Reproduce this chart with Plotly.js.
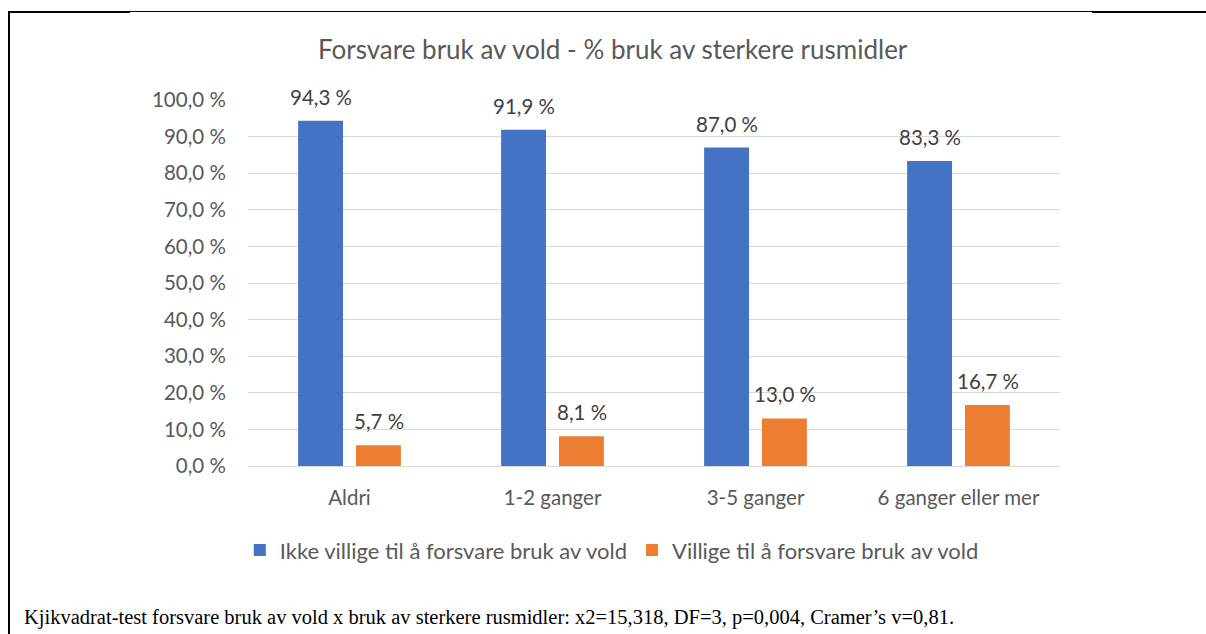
<!DOCTYPE html>
<html>
<head>
<meta charset="utf-8">
<script src="https://cdn.plot.ly/plotly-3.0.1.min.js"></script>
<style>
html,body{margin:0;padding:0;background:#fff;}
#wrap{position:relative;width:1206px;height:634px;overflow:hidden;}
#chart{position:absolute;left:0;top:0;width:1206px;height:634px;}
.ln{position:absolute;background:#000;}
</style>
</head>
<body>
<div id="wrap">
<div id="chart"></div>
<div class="ln" style="left:8px;top:11px;width:2px;height:623px;"></div>
<div class="ln" style="left:8px;top:11px;width:122px;height:2px;"></div>
<div class="ln" style="left:130px;top:11px;width:962px;height:1px;"></div>
<div class="ln" style="left:1092px;top:11px;width:114px;height:2px;"></div>
</div>
<script>
const categories = ["Aldri", "1-2 ganger", "3-5 ganger", "6 ganger eller mer"];
const seriesNames = ["Ikke villige til å forsvare bruk av vold", "Villige til å forsvare bruk av vold"];
const ikkeVillige = [94.3, 91.9, 87.0, 83.3];
const villige = [5.7, 8.1, 13.0, 16.7];
const yTicks = [0, 10, 20, 30, 40, 50, 60, 70, 80, 90, 100];
const yTickLabels = ["0,0 %", "10,0 %", "20,0 %", "30,0 %", "40,0 %", "50,0 %", "60,0 %", "70,0 %", "80,0 %", "90,0 %", "100,0 %"];
const titleText = "Forsvare bruk av vold - % bruk av sterkere rusmidler";
const footerText = "Kjikvadrat-test forsvare bruk av vold x bruk av sterkere rusmidler: x2=15,318, DF=3, p=0,004, Cramer’s v=0,81.";

const colors = ["#4472C4", "#ED7D31"];
const font = "Lato, 'Open Sans', sans-serif";
const grey = "#595959";

const traces = [
  {type: "bar", name: seriesNames[0], x: categories, y: ikkeVillige, marker: {color: colors[0]}, hoverinfo: "none"},
  {type: "bar", name: seriesNames[1], x: categories, y: villige, marker: {color: colors[1]}, hoverinfo: "none"}
];

const fmt = v => v.toFixed(1).replace(".", ",") + " %";
const annotations = [];
[ikkeVillige, villige].forEach((arr, si) => {
  arr.forEach((v, i) => {
    annotations.push({
      x: categories[i], y: v, xref: "x", yref: "y",
      xshift: si === 0 ? -29 : 29, yshift: 10,
      yanchor: "bottom", showarrow: false,
      text: fmt(v), font: {family: font, size: 20.5, color: "#404040"}
    });
  });
});
annotations.push({
  xref: "paper", yref: "paper", x: -0.278, y: -0.4126,
  xanchor: "left", yanchor: "middle", showarrow: false,
  text: footerText, font: {family: "'Liberation Serif', 'DejaVu Serif', serif", size: 20.5, color: "#000"}
});

const layout = {
  width: 1206, height: 634,
  margin: {l: 248, r: 146, t: 100, b: 168},
  paper_bgcolor: "rgba(0,0,0,0)", plot_bgcolor: "#fff",
  title: {text: titleText, font: {family: font, size: 26, color: grey},
          x: 0.508, xanchor: "center", y: 1 - 50/634, yanchor: "middle", yref: "container"},
  barmode: "group", bargap: 0.43, bargroupgap: 0.224,
  showlegend: true,
  legend: {orientation: "h", x: 0.448, xanchor: "center", y: -0.23, yanchor: "middle",
           font: {family: font, size: 22, color: grey}, itemwidth: 30, traceorder: "normal"},
  xaxis: {type: "category", showgrid: false, zeroline: false, showline: false,
          ticks: "outside", ticklen: 13, tickcolor: "rgba(0,0,0,0)",
          tickfont: {family: font, size: 20.5, color: grey}},
  yaxis: {range: [0, 100], tickvals: yTicks, ticktext: yTickLabels,
          showgrid: true, gridcolor: "#d9d9d9", gridwidth: 1, zeroline: true, zerolinecolor: "#d9d9d9",
          showline: false, ticks: "outside", ticklen: 17, tickcolor: "rgba(0,0,0,0)",
          tickfont: {family: font, size: 20.5, color: grey}},
  annotations: annotations,
  font: {family: font}
};

Plotly.newPlot("chart", traces, layout, {staticPlot: true, displayModeBar: false});
</script>
</body>
</html>
